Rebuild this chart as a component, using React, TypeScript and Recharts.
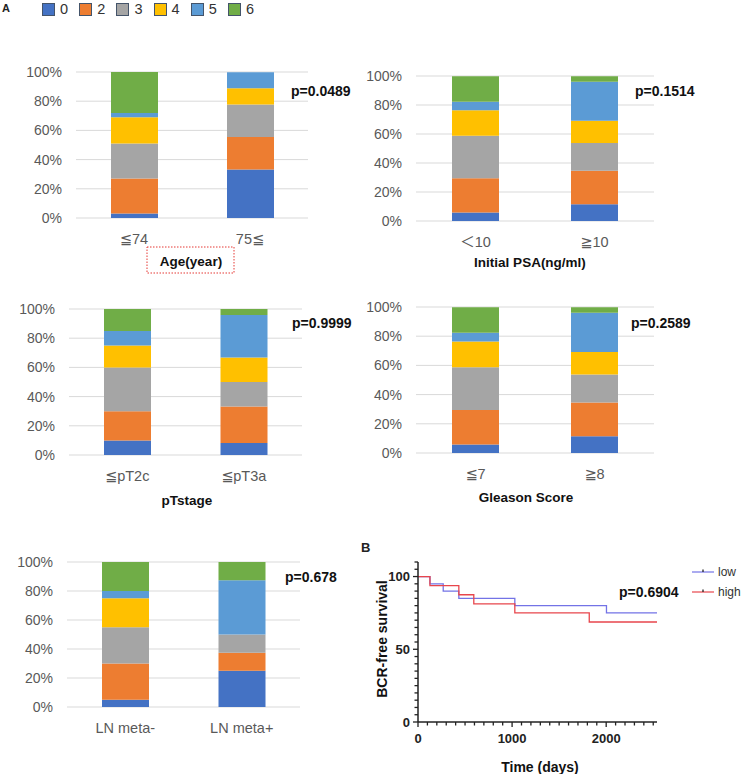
import React from 'react';
import { BarChart, Bar, XAxis, YAxis, CartesianGrid, LineChart, Line } from 'recharts';

// ---------- data ----------
const stageNames = ['0', '2', '3', '4', '5', '6'];
const stageColors = ['#4472C4', '#ED7D31', '#A5A5A5', '#FFC000', '#5B9BD5', '#70AD47'];
const percentTicks = [0, 20, 40, 60, 80, 100];

const ageCategories = ['≦74', '75≦'];
const ageLow = [3, 24, 24, 18, 3, 28];
const ageHigh = [33.3, 22.2, 22.2, 11.1, 11.1, 0];

const psaCategories = ['＜10', '≧10'];
const psaLow = [5.9, 23.5, 29.4, 17.6, 5.9, 17.6];
const psaHigh = [11.5, 23.1, 19.2, 15.4, 26.9, 3.8];

const ptCategories = ['≦pT2c', '≦pT3a'];
const ptLow = [10, 20, 30, 15, 10, 15];
const ptHigh = [8.3, 25, 16.7, 16.7, 29.2, 4.1];

const gleasonCategories = ['≦7', '≧8'];
const gleasonLow = [5.9, 23.5, 29.4, 17.6, 5.9, 17.6];
const gleasonHigh = [11.5, 23.1, 19.2, 15.4, 26.9, 3.8];

const lnCategories = ['LN meta-', 'LN meta+'];
const lnNeg = [5, 25, 25, 20, 5, 20];
const lnPos = [25, 12.5, 12.5, 0, 37.5, 12.5];

const kmNames = ['low', 'high'];
const kmColors = ['#7373E6', '#E8464C'];
const kmLowTime = [0, 127, 268, 434, 1029, 2003, 2540];
const kmLowSurv = [100, 95, 90, 85, 80, 75, 75];
const kmHighTime = [0, 127, 434, 593, 1029, 1820, 2540];
const kmHighSurv = [100, 93.75, 87.5, 81.25, 75, 68.75, 68.75];
const kmXTicks = Array.from({ length: 26 }, (_, i) => i * 100);
const kmYTicks = Array.from({ length: 23 }, (_, i) => i * 5);

const FONT = '"Liberation Sans", Arial, "DejaVu Sans", "Noto Sans CJK JP", sans-serif';

// ---------- stacked panel ----------
type PanelProps = {
  cats: string[];
  rows: number[][];
  plotLeft: number;
  plotTop: number;
  plotW: number;
  plotH: number;
};

function StackPanel({ cats, rows, plotLeft, plotTop, plotW, plotH }: PanelProps) {
  const data = cats.map((c, i) => {
    const o: any = { cat: c };
    stageNames.forEach((s, j) => {
      o['s' + s] = rows[i][j];
    });
    return o;
  });
  const yw = 70;
  const mt = 10;
  const xh = 40;
  return (
    <div style={{ position: 'absolute', left: plotLeft - yw, top: plotTop - mt }}>
      <BarChart
        width={yw + plotW}
        height={mt + plotH + xh}
        data={data}
        margin={{ top: mt, right: 0, bottom: 0, left: 0 }}
      >
        <CartesianGrid vertical={false} stroke="#d9d9d9" />
        <XAxis
          dataKey="cat"
          axisLine={false}
          tickLine={false}
          tickSize={0}
          tickMargin={16}
          height={xh}
          interval={0}
          tick={{ fontSize: 14.5, fill: '#595959' }}
        />
        <YAxis
          width={yw}
          domain={[0, 100]}
          allowDataOverflow
          ticks={percentTicks}
          tickFormatter={(v: number) => v + '%'}
          axisLine={false}
          tickLine={false}
          tickSize={0}
          tickMargin={14}
          tick={{ fontSize: 14, fill: '#595959' }}
        />
        {stageNames.map((s, j) => (
          <Bar
            key={s}
            dataKey={'s' + s}
            stackId="a"
            fill={stageColors[j]}
            barSize={47}
            isAnimationActive={false}
          />
        ))}
      </BarChart>
    </div>
  );
}

// ---------- KM ticks ----------
const KmXTick = (props: any) => {
  const { x, y, payload } = props;
  const v = payload.value;
  const major = v % 1000 === 0;
  return (
    <g>
      <line x1={x} x2={x} y1={y} y2={y + (major ? 5 : 3.5)} stroke="#222" strokeWidth={1.3} />
      {major && (
        <text x={x} y={y + 16} textAnchor="middle" dominantBaseline="central" fontSize={13} fontWeight="bold" fill="#222">
          {v}
        </text>
      )}
    </g>
  );
};

const KmYTick = (props: any) => {
  const { x, y, payload } = props;
  const v = payload.value;
  const major = v % 50 === 0;
  return (
    <g>
      <line x1={x} x2={x - (major ? 5 : 3.5)} y1={y} y2={y} stroke="#222" strokeWidth={1.3} />
      {major && (
        <text x={x - 8} y={y} textAnchor="end" dominantBaseline="central" fontSize={13} fontWeight="bold" fill="#222">
          {v}
        </text>
      )}
    </g>
  );
};

function KmPanel() {
  const low = kmLowTime.map((t, i) => ({ t, v: kmLowSurv[i] }));
  const high = kmHighTime.map((t, i) => ({ t, v: kmHighSurv[i] }));
  const plotLeft = 418;
  const plotTop = 562;
  const plotW = 239;
  const plotH = 160;
  const yw = 50;
  const mt = 5;
  const xh = 30;
  return (
    <div style={{ position: 'absolute', left: plotLeft - yw, top: plotTop - mt }}>
      <LineChart width={yw + plotW + 5} height={mt + plotH + xh} margin={{ top: mt, right: 5, bottom: 0, left: 0 }}>
        <XAxis
          type="number"
          dataKey="t"
          domain={[0, 2540]}
          allowDataOverflow
          ticks={kmXTicks}
          interval={0}
          tickSize={0}
          tickMargin={0}
          tickLine={false}
          height={xh}
          axisLine={{ stroke: '#222', strokeWidth: 1.5 }}
          tick={<KmXTick />}
        />
        <YAxis
          type="number"
          dataKey="v"
          domain={[0, 110]}
          allowDataOverflow
          ticks={kmYTicks}
          interval={0}
          width={yw}
          tickSize={0}
          tickMargin={0}
          tickLine={false}
          axisLine={{ stroke: '#222', strokeWidth: 1.5 }}
          tick={<KmYTick />}
        />
        <Line data={low} dataKey="v" type="stepAfter" stroke={kmColors[0]} strokeWidth={1.3} dot={false} isAnimationActive={false} />
        <Line data={high} dataKey="v" type="stepAfter" stroke={kmColors[1]} strokeWidth={1.3} dot={false} isAnimationActive={false} />
      </LineChart>
    </div>
  );
}

const centered = (x: number, y: number, extra: React.CSSProperties = {}): React.CSSProperties => ({
  position: 'absolute',
  left: x,
  top: y,
  transform: 'translate(-50%, -50%)',
  whiteSpace: 'nowrap',
  ...extra,
});

const pStyle = (x: number, y: number): React.CSSProperties => ({
  position: 'absolute',
  left: x,
  top: y,
  transform: 'translateY(-50%)',
  fontSize: 14,
  fontWeight: 'bold',
  color: '#111',
  whiteSpace: 'nowrap',
});

export default function App() {
  return (
    <div
      style={{
        position: 'absolute',
        left: 0,
        top: 0,
        width: 743,
        height: 774,
        background: '#fff',
        fontFamily: FONT,
        overflow: 'hidden',
      }}
    >
      {/* A label and top legend */}
      <div style={{ position: 'absolute', left: 2, top: 2, fontSize: 11, fontWeight: 'bold', color: '#222', lineHeight: '12px' }}>A</div>
      {stageNames.map((s, j) => (
        <div key={s} style={{ position: 'absolute', left: 42 + j * 37.2, top: 1, height: 17, display: 'flex', alignItems: 'center' }}>
          <div
            style={{
              width: 11,
              height: 11,
              background: stageColors[j],
              border: '1px solid #44546A',
            }}
          />
          <span style={{ marginLeft: 5, fontSize: 14.5, color: '#333', lineHeight: '17px' }}>{s}</span>
        </div>
      ))}

      <StackPanel cats={ageCategories} rows={[ageLow, ageHigh]} plotLeft={76} plotTop={72} plotW={232} plotH={146} />
      <StackPanel cats={psaCategories} rows={[psaLow, psaHigh]} plotLeft={416} plotTop={76} plotW={238} plotH={145} />
      <StackPanel cats={ptCategories} rows={[ptLow, ptHigh]} plotLeft={69} plotTop={309} plotW={233} plotH={146} />
      <StackPanel cats={gleasonCategories} rows={[gleasonLow, gleasonHigh]} plotLeft={416} plotTop={307} plotW={238} plotH={146} />
      <StackPanel cats={lnCategories} rows={[lnNeg, lnPos]} plotLeft={67} plotTop={562} plotW={233} plotH={145} />

      {/* panel titles */}
      <svg width={90} height={29} style={{ position: 'absolute', left: 146, top: 246 }}>
        <rect x={1} y={1} width={87} height={26} fill="none" stroke="#E53935" strokeWidth={1} strokeDasharray="1.5 1.5" />
      </svg>
      <div style={centered(191, 261, { fontSize: 13.5, fontWeight: 'bold', color: '#111' })}>Age(year)</div>
      <div style={centered(530, 262, { fontSize: 13.5, fontWeight: 'bold', color: '#111' })}>Initial PSA(ng/ml)</div>
      <div style={centered(187, 500, { fontSize: 13.5, fontWeight: 'bold', color: '#111' })}>pTstage</div>
      <div style={centered(526, 497, { fontSize: 13.5, fontWeight: 'bold', color: '#111' })}>Gleason Score</div>

      {/* p-values */}
      <div style={pStyle(291, 91)}>p=0.0489</div>
      <div style={pStyle(635, 91)}>p=0.1514</div>
      <div style={pStyle(292, 323)}>p=0.9999</div>
      <div style={pStyle(631, 323)}>p=0.2589</div>
      <div style={pStyle(285, 577)}>p=0.678</div>

      {/* KM panel */}
      <div style={{ position: 'absolute', left: 361, top: 540, fontSize: 13, fontWeight: 'bold', color: '#222' }}>B</div>
      <KmPanel />
      <div style={pStyle(619, 592)}>p=0.6904</div>
      <div style={centered(382, 639, { fontSize: 14, fontWeight: 'bold', color: '#111', transform: 'translate(-50%, -50%) rotate(-90deg)' })}>
        BCR-free survival
      </div>
      <div style={centered(540, 767, { fontSize: 14, fontWeight: 'bold', color: '#111' })}>Time (days)</div>

      {/* KM legend */}
      {kmNames.map((n, i) => (
        <div key={n} style={{ position: 'absolute', left: 692, top: 572 + i * 20 - 8, height: 16, display: 'flex', alignItems: 'center' }}>
          <svg width={23} height={16} style={{ display: 'block' }}>
            <line x1={0} x2={22} y1={8} y2={8} stroke={kmColors[i]} strokeWidth={1.2} />
            <line x1={11} x2={11} y1={5.5} y2={8} stroke="#222" strokeWidth={1.3} />
          </svg>
          <span style={{ marginLeft: 3, fontSize: 12, color: '#333' }}>{n}</span>
        </div>
      ))}
    </div>
  );
}
